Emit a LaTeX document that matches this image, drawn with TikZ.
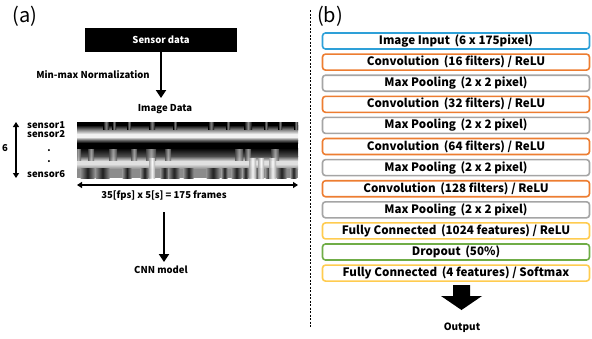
\documentclass[tikz,border=0pt]{standalone}
\usepackage{fontspec}
\setmainfont{Noto Sans CJK JP}
\usetikzlibrary{arrows.meta}
\definecolor{cblue}{RGB}{46,160,216}
\definecolor{corange}{RGB}{237,125,49}
\definecolor{cgray}{RGB}{165,165,165}
\definecolor{cyellow}{RGB}{255,204,80}
\definecolor{cgreen}{RGB}{112,173,71}
\begin{document}
\begin{tikzpicture}[x=1pt,y=-1pt,
  lbl/.style={font=\fontsize{9.5}{10}\selectfont\bfseries, inner sep=0pt},
  panel/.style={font=\fontsize{20}{21}\selectfont, inner sep=0pt},
  layer/.style={draw, rounded corners=3pt, line width=1.6pt, minimum width=267pt,
    minimum height=16pt, inner sep=0pt, fill=white,
    font=\fontsize{11.6}{12}\selectfont\bfseries},
  bigarrow/.style={line width=2.6pt, -{Triangle[length=8pt,width=10pt]}},
  dimarrow/.style={line width=1.3pt, {Triangle[length=5pt,width=6pt]}-{Triangle[length=5pt,width=6pt]}}
]
\useasboundingbox (0,0) rectangle (592,338);
\fill[white] (0,0) rectangle (592,338);

% ---- panel (a)
\node[panel] (pa) at (25,16) {(a)};
\node[fill=black, text=white, minimum width=152pt, minimum height=24pt, inner sep=0pt,
  font=\fontsize{9.5}{10}\selectfont\bfseries] (sensor) at (161,40) {Sensor data};
\node[lbl] (minmax) at (93,75) {Min-max Normalization};
\coordinate (tip1) at (161,98);
\draw[bigarrow] (sensor.south) -- (tip1);
\node[lbl] (imglabel) at (165,109) {Image Data};

% image
\begin{scope}
\clip (77,122) rectangle (298,178);
\fill[black] (77,122) rectangle (298,178);
\shade[top color=black, bottom color=black!45] (77,125) rectangle (298,130);
\shade[top color=black!45, bottom color=black!5] (77,130) rectangle (298,134);
\fill[black!5] (77,134) rectangle (298,137);
\shade[top color=black!5, bottom color=black!60] (77,137) rectangle (298,140);
\shade[top color=black!60, bottom color=black] (77,140) rectangle (298,143);
\shade[top color=black, bottom color=black!70] (77,148) rectangle (298,156);
\shade[top color=black!70, bottom color=black!12] (77,156) rectangle (298,161);
\fill[black!12] (77,161) rectangle (298,164);
\shade[top color=black!12, bottom color=black!45] (77,164) rectangle (298,169);
\fill[black!45] (77,169) rectangle (298,178);
% lighter notches in top row
\foreach \a/\w in {106/3,114/2,129/2,152/3,175/2,211/3,228/2,248/4,266/2,280/2,296/2}
  \shade[left color=black, right color=black, middle color=black!45] (\a-\w,122) rectangle (\a+\w,129);
% lighter columns in fourth row
\foreach \a/\w in {78/3,91/3,113/4,134/3,151/5,168/3,239/4,248/3,275/4}
  \shade[left color=black!70, right color=black!70, middle color=black!25, opacity=.8] (\a-\w,149) rectangle (\a+\w,160);
% dark blocks in last row
\foreach \a/\b in {82/93,97/108,124/130,142/147,162/167,170/178,185/192,208/218,223/226,233/240,244/247,257/262,267/272,278/285,292/295}
  \shade[left color=black!45, right color=black!45, middle color=black!88] (\a-1.5,168) rectangle (\b+1.5,178);
% white streaks
\foreach \a/\b in {150/154,250/255,259/263,270/275}
  \shade[left color=black!35, right color=black!35, middle color=white, opacity=.9] (\a-1,158) rectangle (\b+1,178);
\end{scope}
\coordinate (imgtl) at (77,122);
\coordinate (imgbr) at (298,178);

\coordinate (vtop) at (16,122);
\coordinate (vbot) at (16,178);
\draw[dimarrow] (vtop) -- (vbot);
\node[lbl] (six) at (5,148) {6};
\node[lbl, anchor=west] (s1) at (27,125) {sensor1};
\node[lbl, anchor=west] (s2) at (27,134) {sensor2};
\node[lbl] (d1) at (49,151) {.};
\node[lbl] (d2) at (49,162) {.};
\node[lbl, anchor=west] (s6) at (27,174) {sensor6};

\coordinate (hl) at (77,185);
\coordinate (hr) at (298,185);
\draw[dimarrow] (hl) -- (hr);
\node[lbl] (frames) at (164,196) {35[fps] x 5[s] = 175 frames};
\coordinate (a2s) at (164,212);
\coordinate (a2e) at (164,262);
\draw[bigarrow] (a2s) -- (a2e);
\node[lbl] (cnn) at (161,270) {CNN model};

% divider
\coordinate (dtop) at (310,10);
\coordinate (dbot) at (310,327);
\draw[line width=0.7pt, dash pattern=on 2pt off 1.5pt] (dtop) -- (dbot);

% ---- panel (b)
\node[panel] (pb) at (330,16) {(b)};
\node[layer, draw=cblue]   (l1)  at (456,41)    {Image Input\, (6 x 175pixel)};
\node[layer, draw=corange] (l2)  at (456,62.1)  {Convolution\, (16 filters) / ReLU};
\node[layer, draw=cgray]   (l3)  at (456,83.2)  {Max Pooling\, (2 x 2 pixel)};
\node[layer, draw=corange] (l4)  at (456,104.3) {Convolution\, (32 filters) / ReLU};
\node[layer, draw=cgray]   (l5)  at (456,125.4) {Max Pooling\, (2 x 2 pixel)};
\node[layer, draw=corange] (l6)  at (456,146.5) {Convolution\, (64 filters) / ReLU};
\node[layer, draw=cgray]   (l7)  at (456,167.6) {Max Pooling\, (2 x 2 pixel)};
\node[layer, draw=corange] (l8)  at (456,188.7) {Convolution\, (128 filters) / ReLU};
\node[layer, draw=cgray]   (l9)  at (456,209.8) {Max Pooling\, (2 x 2 pixel)};
\node[layer, draw=cyellow] (l10) at (456,230.9) {Fully Connected\, (1024 features) / ReLU};
\node[layer, draw=cgreen]  (l11) at (456,252)   {Dropout\, (50\%)};
\node[layer, draw=cyellow] (l12) at (456,273.1) {Fully Connected\, (4 features) / Softmax};

\fill[black] (453,285) -- (470,285) -- (470,296) -- (482,296) -- (461.5,310)
  -- (441,296) -- (453,296) -- cycle;
\node[lbl, font=\fontsize{10}{11}\selectfont\bfseries] (out) at (462,328) {Output};
\end{tikzpicture}
\end{document}
